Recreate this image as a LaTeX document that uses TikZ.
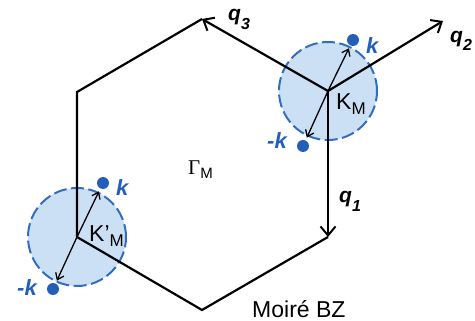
\documentclass[tikz,border=0pt]{standalone}
\usepackage{fontspec}
\setmainfont{Liberation Sans}
\newfontfamily\serifgreek{Liberation Serif}
\usetikzlibrary{arrows.meta}
\definecolor{zonefill}{RGB}{204,224,245}
\definecolor{zoneline}{RGB}{50,110,190}
\definecolor{dotblue}{RGB}{35,95,185}
\begin{document}
\begin{tikzpicture}[x=1pt,y=-1pt,
  edge/.style={line width=2.2pt,line join=miter},
  qarrow/.style={line width=2.2pt,-{Straight Barb[length=9pt,width=15pt,line width=2pt]}},
  karrow/.style={line width=1.3pt,shorten >=3pt,-{Straight Barb[length=6pt,width=9pt,line width=1.3pt]}},
  zone/.style={circle,minimum size=98pt,inner sep=0pt,fill=zonefill,draw=zoneline,line width=2pt,dash pattern=on 13pt off 4.5pt},
  kdot/.style={circle,fill=dotblue,minimum size=12pt,inner sep=0pt},
  klab/.style={text=dotblue,font=\fontsize{22}{22}\selectfont\bfseries\itshape,inner sep=0pt,anchor=base west},
  qlab/.style={font=\fontsize{21}{21}\selectfont\bfseries\itshape,inner sep=0pt,anchor=base west},
  plain/.style={font=\fontsize{23}{23}\selectfont,inner sep=0pt,anchor=base west}]
\useasboundingbox (0,0) rectangle (475,321);
\coordinate (T) at (202,19);
\coordinate (KM) at (328,91);
\coordinate (BR) at (328,237);
\coordinate (B) at (202,310);
\coordinate (KpM) at (77,237);
\coordinate (TL) at (77,92);
\coordinate (Q2) at (443,21);
\node[zone] (zR) at (KM) {};
\node[zone] (zL) at (KpM) {};
\draw[edge] (T) -- (TL) -- (KpM) -- (B) -- (BR);
\draw[qarrow] (KM) -- (T);
\draw[qarrow] (KM) -- (BR);
\draw[qarrow] (KM) -- (Q2);
\node[kdot] (kR) at (353,40) {};
\node[kdot] (mkR) at (303,146) {};
\node[kdot] (kL) at (103,183) {};
\node[kdot] (mkL) at (53,289) {};
\draw[karrow] (KM) -- (kR);
\draw[karrow] (KM) -- (mkR);
\draw[karrow] (KpM) -- (kL);
\draw[karrow] (KpM) -- (mkL);
\node[klab] (kRl) at (366,54) {k};
\node[klab] (mkRl) at (267,149) {-k};
\node[klab] (kLl) at (116,196) {k};
\node[klab] (mkLl) at (17,295) {-k};
\node[plain] (KMl) at (336,110) {K\raisebox{-5pt}{\fontsize{17}{17}\selectfont M}};
\node[plain] (KpMl) at (89,242) {K’\raisebox{-5pt}{\fontsize{17}{17}\selectfont M}};
\node[plain] (Gl) at (188,175) {{\serifgreek\fontsize{21}{21}\selectfont Γ}\raisebox{-4pt}{\fontsize{15}{15}\selectfont M}};
\node[qlab] (q1l) at (339,203) {q\raisebox{-9pt}{\fontsize{16}{16}\selectfont 1}};
\node[qlab] (q2l) at (450,43) {q\raisebox{-8pt}{\fontsize{16}{16}\selectfont 2}};
\node[qlab] (q3l) at (228,21) {q\raisebox{-9pt}{\fontsize{16}{16}\selectfont 3}};
\node[plain] (bz) at (252,317) {Moiré BZ};
\end{tikzpicture}
\end{document}
